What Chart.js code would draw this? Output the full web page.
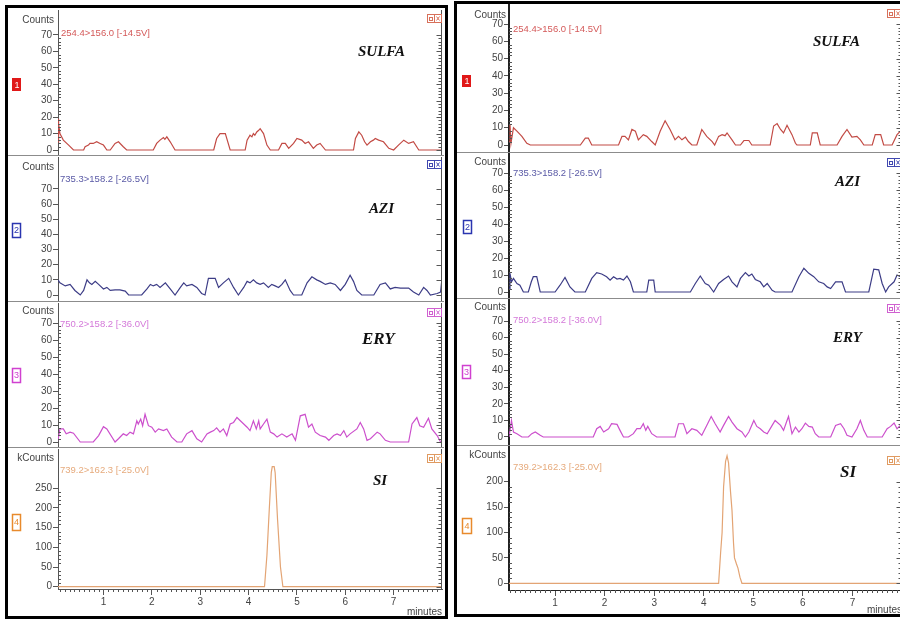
<!DOCTYPE html>
<html>
<head>
<meta charset="utf-8">
<script src="https://cdn.jsdelivr.net/npm/chart.js@4.4.1/dist/chart.umd.min.js"></script>
<style>
  html, body { margin: 0; padding: 0; background: #fff; width: 900px; height: 619px; overflow: hidden; position: relative; }
  canvas { position: absolute; }
  .frame { position: absolute; border: 3px solid #000; box-sizing: border-box; pointer-events: none; z-index: 5; }
</style>
</head>
<body>
<div class="frame" style="left:5px;top:5px;width:443px;height:614px"></div>
<div class="frame" style="left:454px;top:1px;width:460px;height:616px"></div>
<script>
// ---- compounds and MRM transitions ----
const compounds = ['SULFA', 'AZI', 'ERY', 'SI'];
const transitions = ['254.4>156.0 [-14.5V]', '735.3>158.2 [-26.5V]', '750.2>158.2 [-36.0V]', '739.2>162.3 [-25.0V]'];
const yTitles = ['Counts', 'Counts', 'Counts', 'kCounts'];

// ---- tick labels ----
const countTicks = [0, 10, 20, 30, 40, 50, 60, 70];
const kCountTicksA = [0, 50, 100, 150, 200, 250];
const kCountTicksB = [0, 50, 100, 150, 200];
const minuteTicks = [1, 2, 3, 4, 5, 6, 7];

// ---- run A (left) ----
const sulfaA_min = [0.06,0.065,0.08,0.10,0.17,0.28,0.38,0.59,0.62,0.69,0.72,0.79,0.86,0.93,1.00,1.07,1.14,1.24,1.31,1.41,1.48,2.03,2.10,2.17,2.24,2.27,2.31,2.38,2.48,3.28,3.34,3.41,3.52,3.62,3.93,3.97,4.03,4.07,4.10,4.13,4.17,4.21,4.24,4.31,4.38,4.45,4.62,4.69,4.76,4.83,4.93,5.00,5.10,5.17,5.24,5.34,5.41,5.48,5.59,6.17,6.21,6.28,6.34,6.40,6.45,6.52,6.58,6.62,6.69,6.79,6.90,7.00,7.10,7.21,7.31,7.41,7.52,8.00];
const sulfaA_counts = [5,19,16,10,6,3,0,0,2,3,4,4,5,4,3,0,0,4,5,2,0,0,4,6,7.6,6.5,8,5,0,0,7,10,10,0,0,6,9,8,10,9,11,12,13,10,3,0,0,4,4,1,4,7,6,4,5,1,3,4,0,0,7,11,9,5,3,5,6,7,6,5,1,0,3,6,4,5,0,0];

const aziA_min = [0.06,0.10,0.21,0.31,0.41,0.52,0.59,0.66,0.71,0.76, 0.83,0.90,1.00,1.07,1.14,1.24,1.34,1.45,1.52,1.79, 1.90,1.97,2.03,2.10,2.17,2.28,2.38,2.48,2.59,2.66, 2.72,2.83,2.93,3.03,3.10,3.17,3.31,3.38,3.48,3.59, 3.69,3.79,3.90,3.97,4.03,4.10,4.17,4.24,4.31,4.41, 4.48,4.55,4.62,4.69,4.76,4.86,4.93,5.10,5.21,5.31, 5.41,5.48,5.59,5.69,5.79,5.90,6.00,6.10,6.17,6.24, 6.34,6.59,6.72,6.83,6.93,7.03,7.14,7.31,7.41,7.52, 7.62,7.69,7.76,7.90,7.97,7.99,8.00];
const aziA_counts = [10,8,6,7,3,0,3,10,8,7, 9,7,4,5,3,3.4,3.4,2.6,0,0, 4,7,6,7,5,8,4,0,5,8, 6,7,5,1,0,11,11,5,8,11, 5,0,5,9,8,10,8,7,8,5, 7,6,5,7,10,3,0,0,8,12, 10,9,7,8,7,3,7,13,9,3, 0,0,7,8,4,5,4.6,4.6,2,0, 5,3,0,1,2,8,9];

const eryA_min = [0.06,0.10,0.17,0.23,0.31,0.38,0.52,0.79,0.90,1.00, 1.07,1.24,1.31,1.41,1.48,1.55,1.62,1.69,1.72,1.77, 1.81,1.86,1.93,2.00,2.07,2.14,2.24,2.31,2.41,2.52, 2.62,2.72,2.83,2.93,3.03,3.14,3.21,3.28,3.34,3.41, 3.48,3.55,3.62,3.69,3.76,3.83,3.90,3.97,4.03,4.10, 4.16,4.21,4.24,4.31,4.38,4.45,4.52,4.59,4.69,4.79, 4.90,4.97,5.07,5.17,5.24,5.31,5.38,5.48,5.59,5.66, 5.76,5.83,5.90,5.97,6.03,6.10,6.24,6.31,6.38,6.45, 6.52,6.66,6.72,6.83,6.93,7.31,7.38,7.48,7.54,7.62, 7.72,7.79,7.90,7.97,8.00];
const eryA_counts = [1,7.7,7.7,4.8,5.8,5.2,0,0,3.8,9, 7.7,0,1.9,4.8,3.8,5.8,4.8,12.5,10.6,13.5, 9.6,16.3,9.6,8.7,5.8,7.7,6.7,7.7,2.9,0, 0,4.8,6.7,1.9,0,4.8,5.8,6.7,8.3,5.8, 7.7,3.8,10.6,11.5,14.4,12.5,10.6,8.7,6.7,12.5, 7.7,12.5,7.7,10.6,13.5,5.8,4.8,2.9,4.8,2.9, 4.8,1,15.4,16.3,8.7,10.6,5.8,3.8,2.9,1, 3.8,4.8,3.8,6.7,2.9,4.8,7.7,11.5,7.7,1, 1.9,5.8,4.8,1,0,0,10.6,14.4,9.6,8.7, 14,7.7,3.8,0,0];

const siA_min = [0.06,4.33,4.38,4.43,4.47,4.49,4.53,4.55,4.60,4.66,4.71,8.00];
const siA_kcounts = [0,0,80,200,290,305,305,290,170,50,0,0];

// ---- run B (right) ----
const sulfaB_min = [0.07,0.09,0.11,0.16,0.23,0.33,0.43,0.50,1.51,1.61, 1.67,1.74,2.28,2.35,2.41,2.48,2.55,2.62,2.68,2.78, 2.85,2.95,3.02,3.12,3.22,3.32,3.42,3.49,3.56,3.63, 3.69,3.76,3.86,3.96,4.06,4.17,4.22,4.30,4.37,4.43, 4.47,4.57,4.64,4.74,4.81,4.91,4.97,5.34,5.41,5.48, 5.55,5.61,5.68,5.78,5.85,5.88,6.15,6.19,6.29,6.35, 6.69,6.79,6.89,6.99,7.09,7.16,7.23,7.40,7.46,7.57, 7.63,7.80,7.90,7.97,8.00];
const sulfaB_counts = [2,12,1,10,8,5,1,0,0,4, 4,0,0,5,5,3,9,8,3,6, 5,2,0,8,14,9,3,5,3,4.6, 2,0,0,9,5,2,0,5,6,5.4, 7,3,0,0,2.6,2.6,0,0,11,12.4, 9,7,11.4,6,1,0,0,7,7,0, 0,5,9,4.6,5,3,0,0,6,6, 0,0,6,8,7];

const aziB_min = [0.07,0.09,0.12,0.16,0.23,0.29,0.36,0.46,0.52,0.56, 0.63,0.70,1.00,1.10,1.20,1.30,1.40,1.61,1.74,1.84, 1.94,2.04,2.11,2.18,2.25,2.31,2.38,2.45,2.52,2.58, 2.85,2.89,2.99,3.02,3.73,3.83,3.93,4.03,4.10,4.20, 4.30,4.40,4.50,4.57,4.67,4.74,4.84,4.91,4.97,5.04, 5.14,5.21,5.28,5.38,5.44,5.78,5.92,6.02,6.12,6.22, 6.32,6.42,6.49,6.56,6.66,6.79,6.86,7.33,7.43,7.53, 7.60,7.67,7.73,7.84,7.90,7.97,8.00];
const aziB_counts = [2,11,6,8,5,4,0,0,6,9, 9,0,0,4,8.6,3,0,0,8,11.4, 10.6,9,7,9,7.6,8,7,9.4,6,0, 0,7,7,0,0,5,9.4,5,4,0, 5,7.4,9.4,6,3,8,11.4,9.4,10.6,7.4, 6,3,5,1,0,0,9,14,11,9, 6,5,3,2,6,6,0,0,13.4,13, 5,0,3,6,10,9,8];

const eryB_min = [0.07,0.09,0.12,0.16,0.23,0.33,0.46,0.53,0.60,0.70, 0.76,1.77,1.84,1.91,1.98,2.08,2.14,2.25,2.31,2.38, 2.48,2.58,2.65,2.72,2.78,2.83,2.87,2.95,3.05,3.42, 3.49,3.59,3.66,3.76,3.86,3.96,4.06,4.15,4.23,4.33, 4.40,4.50,4.57,4.67,4.77,4.84,4.91,5.01,5.07,5.14, 5.21,5.28,5.38,5.44,5.55,5.61,5.68,5.71,5.78,5.85, 5.92,5.98,6.05,6.12,6.19,6.25,6.32,6.56,6.66,6.76, 6.83,6.89,6.99,7.09,7.16,7.23,7.30,7.60,7.70,7.77, 7.84,7.90,7.97,8.00];
const eryB_counts = [0,0,10,3,2,0,0,2,3,1, 0,0,5,6.4,3,5,8,7.6,4,0, 0,2,5,5,8,4,6.4,2,0,0, 8,8,2,5,4,1,7,12.4,8,3, 7,12.4,9,5,3,0,3,10,6.4,5, 3,2,7,10,7,4,10,12.4,2,6, 3,5,8.4,6.4,6,2,0,0,7,8, 5,1,0,5,10,4,0,0,5,6.4, 8.4,5,7,6];

const siB_min = [0.07,4.30,4.34,4.37,4.40,4.44,4.47,4.50,4.54,4.57,4.60,4.62,4.66,4.69,4.73,4.77,8.00];
const siB_kcounts = [0,0,60,100,190,240,251,237,180,143,80,50,38,30,12,0,0];

const traces = {
  A: [[sulfaA_min, sulfaA_counts], [aziA_min, aziA_counts], [eryA_min, eryA_counts], [siA_min, siA_kcounts]],
  B: [[sulfaB_min, sulfaB_counts], [aziB_min, aziB_counts], [eryB_min, eryB_counts], [siB_min, siB_kcounts]]
};

// ---- styling ----
const traceColors = ['#c24a44', '#3c3c86', '#cc4fcc', '#e3a474'];
const labelColors = ['#d45a5a', '#5a5aa6', '#d479d9', '#e6aa7c'];
const boxColors   = ['#e01818', '#2a35b0', '#d040d0', '#e88a2c'];
const iconColors  = ['#d8705a', '#4048b0', '#d060d0', '#e09a60'];
const FONT = '"Liberation Sans", Arial, sans-serif';

const panels = {
  A: { left: 8,   width: 436, padLeft: 8,  padRight: 2, xMin: 0.06, xMax: 8.0, axisColor: '#555', axisWidth: 1, yTitleX: 54 },
  B: { left: 457, width: 453, padLeft: 10, padRight: 8, xMin: 0.07, xMax: 8.0, axisColor: '#222', axisWidth: 2, yTitleX: 506 }
};

const strips = [
  { panel: 'A', row: 0, top: 8,   bottom: 157, plotTop: 10,  plotBottom: 155, yMin: -3.04, yMax: 85.2,  minor: 2,  major: 10, yTitleY: 20,  labelX: 61,  labelY: 33,  nameX: 358, nameY: 52,  nameSize: 15, box: [12, 78, 9, 13],  iconY: 14 },
  { panel: 'A', row: 1, top: 156, bottom: 303, plotTop: 157, plotBottom: 301, yMin: -3.96, yMax: 91.1,  minor: 0,  major: 10, yTitleY: 167, labelX: 60,  labelY: 179, nameX: 369, nameY: 209, nameSize: 15, box: [12, 223, 8, 14], iconY: 160 },
  { panel: 'A', row: 2, top: 302, bottom: 449, plotTop: 303, plotBottom: 447, yMin: -2.94, yMax: 81.8,  minor: 2,  major: 10, yTitleY: 311, labelX: 60,  labelY: 324, nameX: 362, nameY: 340, nameSize: 17, box: [12, 368, 8, 14], iconY: 308 },
  { panel: 'A', row: 3, top: 448, bottom: 618, plotTop: 449, plotBottom: 589, yMin: -5.8,  yMax: 349.8, minor: 10, major: 50, yTitleY: 458, labelX: 60,  labelY: 470, nameX: 373, nameY: 481, nameSize: 15, box: [12, 514, 8, 16], iconY: 454 },
  { panel: 'B', row: 0, top: 3,   bottom: 154, plotTop: 4,   plotBottom: 152, yMin: -4.05, yMax: 81.6,  minor: 2,  major: 10, yTitleY: 15,  labelX: 513, labelY: 29,  nameX: 813, nameY: 42,  nameSize: 15, box: [462, 75, 9, 12], iconY: 9 },
  { panel: 'B', row: 1, top: 153, bottom: 300, plotTop: 154, plotBottom: 298, yMin: -3.53, yMax: 81.2,  minor: 2,  major: 10, yTitleY: 162, labelX: 513, labelY: 173, nameX: 835, nameY: 182, nameSize: 15, box: [463, 220, 8, 13], iconY: 158 },
  { panel: 'B', row: 2, top: 299, bottom: 447, plotTop: 300, plotBottom: 445, yMin: -4.83, yMax: 82.7,  minor: 2,  major: 10, yTitleY: 307, labelX: 513, labelY: 320, nameX: 833, nameY: 338, nameSize: 15, box: [462, 365, 8, 13], iconY: 304 },
  { panel: 'B', row: 3, top: 446, bottom: 616, plotTop: 447, plotBottom: 590, yMin: -13.2, yMax: 268.3, minor: 10, major: 50, yTitleY: 455, labelX: 513, labelY: 467, nameX: 840, nameY: 473, nameSize: 17, box: [462, 518, 9, 15], iconY: 456 }
];

// Draws the chromatogram furniture: right-hand axis, minor ticks, strip separator,
// trace header, compound name, channel box and the window icons.
const stripDecor = {
  id: 'stripDecor',
  afterDraw(chart, _args, o) {
    const { ctx, chartArea: a } = chart;
    const ys = chart.scales.y, xs = chart.scales.x;
    const px = v => v - o.left, py = v => v - o.top;
    const seg = (x1, y1, x2, y2) => { ctx.beginPath(); ctx.moveTo(x1, y1); ctx.lineTo(x2, y2); ctx.stroke(); };
    ctx.save();
    ctx.lineWidth = 1;
    ctx.strokeStyle = '#555';

    // right-hand axis with inward ticks
    const R = Math.round(a.right) - 0.5;
    seg(R, a.top, R, a.bottom);
    ys.ticks.forEach(t => {
      const yy = Math.round(ys.getPixelForValue(t.value)) + 0.5;
      seg(R - 5, yy, R, yy);
    });

    // minor ticks on both vertical axes
    if (o.minor) {
      const per = Math.round(o.major / o.minor);
      const top = o.tickTop;
      for (let k = 1; k * o.minor <= top; k++) {
        if (k % per === 0) continue;
        const yy = Math.round(ys.getPixelForValue(k * o.minor)) + 0.5;
        seg(a.left, yy, a.left + 3, yy);
        seg(R - 3, yy, R, yy);
      }
    }

    // minor ticks on the time axis
    if (o.timeAxis) {
      for (let k = Math.ceil(xs.min * 10); k <= Math.floor(xs.max * 10); k++) {
        if (k % 10 === 0) continue;
        const xx = Math.round(xs.getPixelForValue(k / 10)) + 0.5;
        seg(xx, a.bottom, xx, a.bottom + 3);
      }
    }

    // separator to the next strip
    if (o.separator) {
      ctx.strokeStyle = '#8c8c8c';
      const sy = Math.round(a.bottom) + 0.5;
      seg(0, sy, chart.width, sy);
    }

    // texts
    ctx.textBaseline = 'middle';
    ctx.font = '10px ' + FONT;
    ctx.fillStyle = '#444';
    ctx.textAlign = 'right';
    ctx.fillText(o.yTitle, px(o.yTitleX), py(o.yTitleY));
    ctx.textAlign = 'left';
    ctx.fillStyle = o.labelColor;
    ctx.font = '9.5px ' + FONT;
    ctx.fillText(o.transition, px(o.labelX), py(o.labelY));
    ctx.font = 'italic bold ' + o.nameSize + 'px "Liberation Serif", "Times New Roman", serif';
    ctx.fillStyle = '#111';
    ctx.fillText(o.name, px(o.nameX), py(o.nameY));

    // channel number box
    const [bx, by, bw, bh] = o.box;
    ctx.lineWidth = 1.5;
    if (o.boxFilled) {
      ctx.fillStyle = o.boxColor;
      ctx.fillRect(px(bx), py(by), bw, bh);
      ctx.fillStyle = '#fff';
    } else {
      ctx.strokeStyle = o.boxColor;
      ctx.strokeRect(px(bx) + 0.5, py(by) + 0.5, bw, bh);
      ctx.fillStyle = o.boxColor;
    }
    ctx.font = '9px ' + FONT;
    ctx.textAlign = 'center';
    ctx.fillText(String(o.channel), px(bx) + bw / 2 + 0.5, py(by) + bh / 2 + 1);

    // window icons
    ctx.lineWidth = 1;
    ctx.strokeStyle = o.iconColor;
    const ix = Math.round(a.right) - 15, iy = Math.round(py(o.iconY));
    ctx.strokeRect(ix + 0.5, iy + 0.5, 7, 8);
    ctx.strokeRect(ix + 7.5, iy + 0.5, 7, 8);
    ctx.strokeRect(ix + 2.5, iy + 3.5, 3, 3);
    seg(ix + 9.5, iy + 2.5, ix + 12.5, iy + 6.5);
    seg(ix + 12.5, iy + 2.5, ix + 9.5, iy + 6.5);
    ctx.restore();
  }
};

Chart.defaults.font.family = FONT;
Chart.defaults.font.size = 10;
Chart.defaults.color = '#444';

strips.forEach(s => {
  const p = panels[s.panel];
  const isTime = s.row === 3;
  const H = s.bottom - s.top;
  const canvas = document.createElement('canvas');
  canvas.width = p.width; canvas.height = H;
  canvas.style.left = p.left + 'px'; canvas.style.top = s.top + 'px';
  canvas.style.width = p.width + 'px'; canvas.style.height = H + 'px';
  document.body.appendChild(canvas);

  const [tArr, vArr] = traces[s.panel][s.row];
  const data = tArr.map((t, i) => ({ x: t, y: vArr[i] }));
  const yTicks = isTime ? (s.panel === 'A' ? kCountTicksA : kCountTicksB) : countTicks;
  const xAxisH = isTime ? s.bottom - s.plotBottom : 0;

  new Chart(canvas, {
    type: 'line',
    data: { datasets: [{ data, borderColor: traceColors[s.row], borderWidth: 1.2, pointRadius: 0, tension: 0, fill: false }] },
    options: {
      responsive: false, animation: false, devicePixelRatio: 1, events: [],
      layout: { padding: { left: p.padLeft, right: p.padRight, top: s.plotTop - s.top, bottom: isTime ? 0 : s.bottom - s.plotBottom } },
      plugins: {
        legend: { display: false }, tooltip: { enabled: false },
        stripDecor: {
          left: p.left, top: s.top, minor: s.minor, major: s.major, tickTop: yTicks[yTicks.length - 1],
          timeAxis: isTime, separator: !isTime,
          yTitle: yTitles[s.row], yTitleX: p.yTitleX, yTitleY: s.yTitleY,
          transition: transitions[s.row], labelColor: labelColors[s.row], labelX: s.labelX, labelY: s.labelY,
          name: compounds[s.row], nameX: s.nameX, nameY: s.nameY, nameSize: s.nameSize,
          box: s.box, boxColor: boxColors[s.row], boxFilled: s.row === 0, channel: s.row + 1,
          iconColor: iconColors[s.row], iconY: s.iconY
        }
      },
      scales: {
        x: {
          type: 'linear', min: p.xMin, max: p.xMax, display: isTime,
          afterBuildTicks: sc => { sc.ticks = minuteTicks.map(v => ({ value: v })); },
          afterFit: sc => { sc.height = xAxisH; sc.paddingLeft = 0; sc.paddingRight = 0; },
          grid: { display: true, drawOnChartArea: false, drawTicks: true, tickLength: 6, color: '#555' },
          border: { display: true, color: p.axisColor, width: 1 },
          ticks: { padding: 1, maxRotation: 0, autoSkip: false, color: '#444' },
          title: { display: isTime, text: 'minutes', align: 'end', padding: 0, color: '#444', font: { size: 10 } }
        },
        y: {
          type: 'linear', min: s.yMin, max: s.yMax,
          afterBuildTicks: sc => { sc.ticks = yTicks.map(v => ({ value: v })); },
          afterFit: sc => { sc.width = 42; sc.paddingTop = 0; sc.paddingBottom = 0; },
          grid: { display: true, drawOnChartArea: false, drawTicks: true, tickLength: 5, color: '#555' },
          border: { display: true, color: p.axisColor, width: p.axisWidth },
          ticks: { padding: 1, autoSkip: false, color: '#444' }
        }
      }
    },
    plugins: [stripDecor]
  });
});
</script>
</body>
</html>
